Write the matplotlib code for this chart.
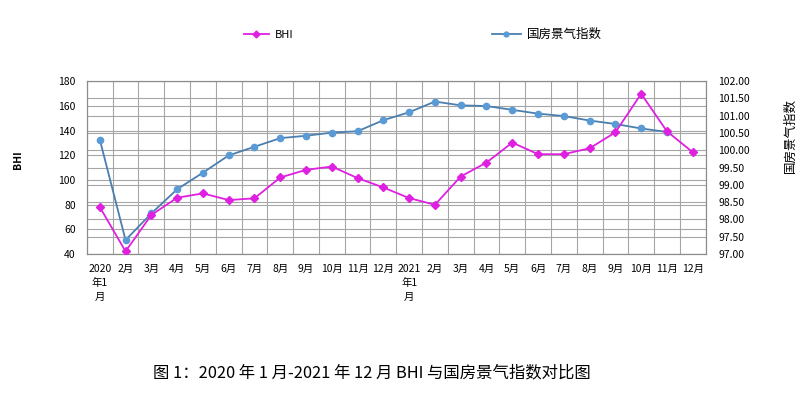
import matplotlib
matplotlib.use("Agg")
import matplotlib.pyplot as plt
from matplotlib.lines import Line2D
from matplotlib.ticker import MultipleLocator, FormatStrFormatter

plt.rcParams['font.family'] = ['Noto Sans CJK SC', 'DejaVu Sans']

months = ["2020\n年1\n月", "2月", "3月", "4月", "5月", "6月", "7月", "8月", "9月", "10月", "11月", "12月",
          "2021\n年1\n月", "2月", "3月", "4月", "5月", "6月", "7月", "8月", "9月", "10月", "11月", "12月"]
bhi = [78, 42, 71.5, 85.5, 89, 83.6, 85, 101.9, 108.1, 110.8, 101.4, 93.8,
       85.2, 79.8, 102.7, 114, 130.2, 120.8, 120.8, 125.6, 138.5, 169.8, 139.3, 122.4]
gf_index = [100.31, 97.40, 98.17, 98.87, 99.35, 99.85, 100.10, 100.35, 100.42, 100.51, 100.55, 100.87,
            101.10, 101.41, 101.30, 101.28, 101.17, 101.06, 100.99, 100.86, 100.76, 100.63, 100.53]

fig = plt.figure(figsize=(8.12, 3.96), dpi=100)
ax = fig.add_axes([0.107, 0.359, 0.762, 0.436])
ax2 = ax.twinx()
ax.set_zorder(2)
ax.patch.set_visible(False)
ax2.set_zorder(1)

n = len(months)
x = list(range(n))
grid_c = '#a6a6a6'

ax.set_xlim(-0.5, n - 0.5)
ax.set_ylim(40, 180)
ax.yaxis.set_major_locator(MultipleLocator(20))
ax2.set_ylim(97, 102)
ax2.yaxis.set_major_locator(MultipleLocator(0.5))
ax2.yaxis.set_major_formatter(FormatStrFormatter('%.2f'))

for b in range(n + 1):
    ax2.axvline(b - 0.5, color=grid_c, lw=0.8, zorder=0)
ax2.grid(axis='y', color=grid_c, lw=0.8)
ax2.set_xlim(-0.5, n - 0.5)
for t in range(40, 181, 20):
    ax2.axhline(97 + (t - 40) / 28.0, color=grid_c, lw=0.8, zorder=0)
ax2.set_axisbelow(True)

ax.set_xticks(x)
ax.set_xticklabels(months, fontsize=7.5, linespacing=1.5, va='top')
ax.tick_params(axis='x', length=0, pad=7)
ax.tick_params(axis='y', length=0, pad=8, labelsize=7.5)
ax2.tick_params(axis='y', length=0, pad=9, labelsize=7.5)

for a in (ax, ax2):
    for s in a.spines.values():
        s.set_color('#8c8c8c')
        s.set_linewidth(0.8)

l2, = ax2.plot(x[:len(gf_index)], gf_index, color='#4a7fb0', lw=1.3, marker='o', ms=4.5,
               mfc='#5b9bd5', mec='#5b9bd5', zorder=3)
l1, = ax.plot(x, bhi, color='#e020e0', lw=1.3, marker='D', ms=4,
              mfc='#e020e0', mec='#e020e0', zorder=3)

h1 = Line2D([], [], color='#e020e0', lw=1.3, marker='D', ms=3.5)
h2 = Line2D([], [], color='#4a7fb0', lw=1.3, marker='o', ms=3.5, mfc='#5b9bd5', mec='#5b9bd5')
kw = dict(frameon=False, borderpad=0, borderaxespad=0, handlelength=2.3, handletextpad=0.5)
fig.legend(handles=[h1], labels=['BHI'], loc='center left', bbox_to_anchor=(0.300, 0.912),
           fontsize=8, **kw)
fig.legend(handles=[h2], labels=['国房景气指数'], loc='center left', bbox_to_anchor=(0.606, 0.912),
           fontsize=9, **kw)

fig.text(0.022, 0.596, 'BHI', rotation=90, ha='center', va='center', fontsize=7.5, fontweight='bold')
fig.text(0.973, 0.659, '国房景气指数', rotation=90, ha='center', va='center', fontsize=9)

fig.text(0.458, 0.058, '图 1：2020 年 1 月-2021 年 12 月 BHI 与国房景气指数对比图',
         ha='center', va='center', fontsize=11.8)

fig.savefig('out.png', dpi=100)
